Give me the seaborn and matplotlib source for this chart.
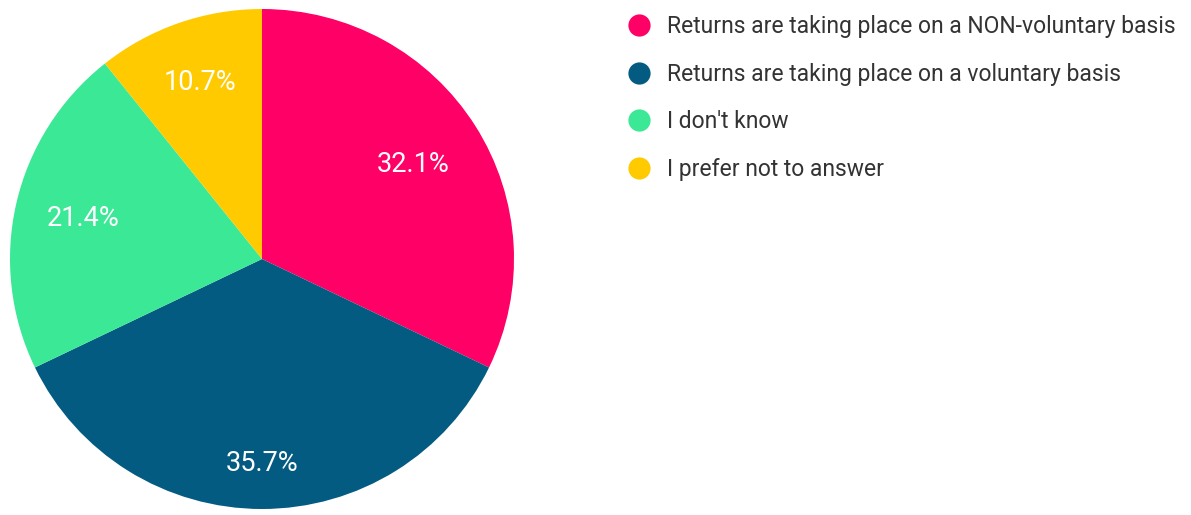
import numpy as np
import matplotlib
matplotlib.use("Agg")
import matplotlib.pyplot as plt
from matplotlib.lines import Line2D
import seaborn as sns

# Survey responses (counts out of 28)
categories = [
    "Returns are taking place on a NON-voluntary basis",
    "Returns are taking place on a voluntary basis",
    "I don't know",
    "I prefer not to answer",
]
counts = [9, 10, 6, 3]
colors = ["#FF0066", "#045B81", "#3AE896", "#FFCB00"]

sns.set_theme(style="white")
plt.rcParams["font.family"] = ["Roboto", "DejaVu Sans"]

W, H = 1191, 515
fig = plt.figure(figsize=(W / 100, H / 100), dpi=100)
fig.patch.set_facecolor("white")

# pie area in pixel coordinates
px_left, px_right, px_top, px_bottom = 10, 514, 9, 509
ax = fig.add_axes([px_left / W, 1 - px_bottom / H,
                   (px_right - px_left) / W, (px_bottom - px_top) / H])

palette = sns.color_palette(colors)
wedges, _, autotexts = ax.pie(
    counts, colors=palette, startangle=90, counterclock=False,
    autopct="%1.1f%%", pctdistance=0.75,
    wedgeprops=dict(linewidth=0),
    textprops=dict(color="white", fontsize=19.5),
)

# individual radial placement of the percentage labels
label_radius = [0.71, 0.82, 0.73, 0.75]
for w, t, r in zip(wedges, autotexts, label_radius):
    ang = np.deg2rad((w.theta1 + w.theta2) / 2)
    t.set_position((r * np.cos(ang), r * np.sin(ang)))
    t.set_ha("center")
    t.set_va("center")

ax.set_xlim(-1, 1)
ax.set_ylim(-1, 1)
ax.set_aspect("auto")
ax.axis("off")

handles = [
    Line2D([0], [0], marker="o", linestyle="none", markersize=16,
           markerfacecolor=c, markeredgewidth=0)
    for c in palette
]
leg = fig.legend(
    handles, categories, loc="upper left",
    bbox_to_anchor=(628 / W, 1 - 15 / H), frameon=False,
    fontsize=16.5, labelcolor="#333333", labelspacing=1.07,
    handletextpad=0.72, handlelength=1.0, borderpad=0, borderaxespad=0,
)

fig.savefig("out.png", dpi=100, facecolor="white")
